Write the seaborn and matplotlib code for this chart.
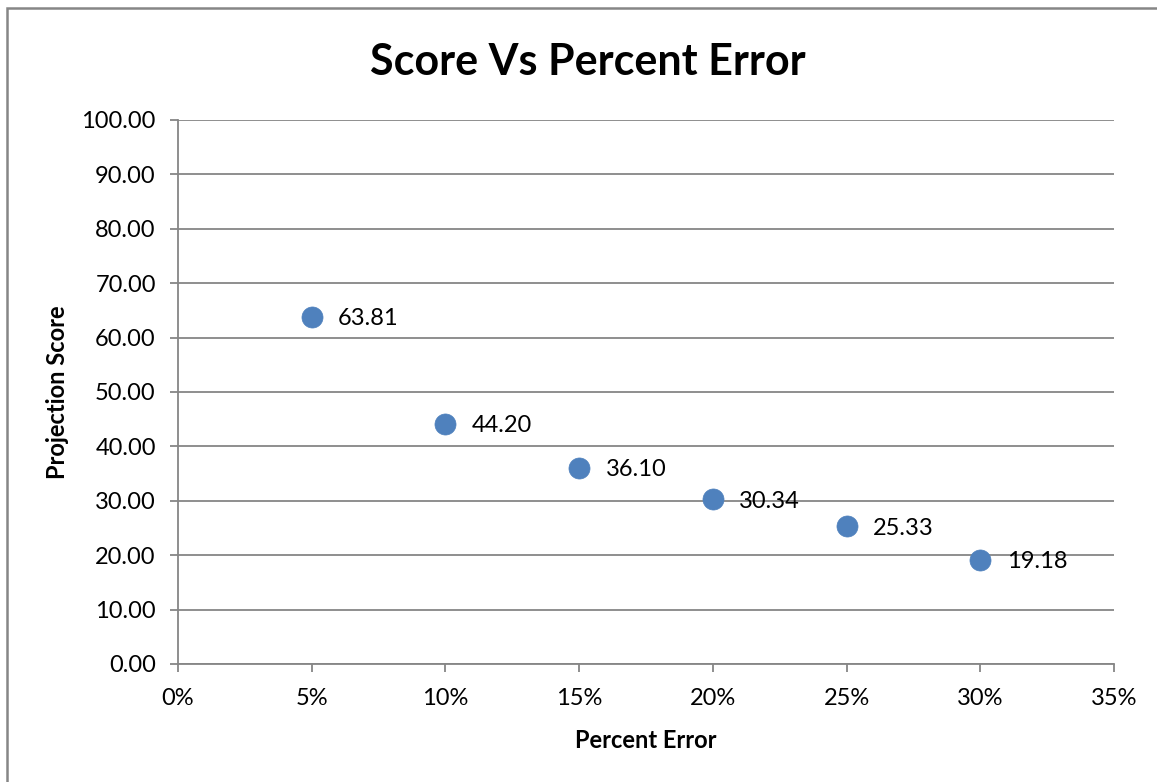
import matplotlib
matplotlib.use("Agg")
import matplotlib.pyplot as plt
import matplotlib.patches as mpatches
from matplotlib.ticker import FuncFormatter, MultipleLocator
import pandas as pd
import seaborn as sns

# Datos
percent_error = [0.05, 0.10, 0.15, 0.20, 0.25, 0.30]
projection_score = [63.81, 44.20, 36.10, 30.34, 25.33, 19.18]

title = "Score Vs Percent Error"
x_label = "Percent Error"
y_label = "Projection Score"

GRAY = "#868686"
BLUE = "#4F81BD"

sns.set_theme(style="white")
plt.rcParams['font.family'] = ['Lato', 'DejaVu Sans']
plt.rcParams['text.color'] = 'black'
plt.rcParams['axes.labelcolor'] = 'black'

df = pd.DataFrame({"error": percent_error, "score": projection_score})

fig = plt.figure(figsize=(11.57, 7.82), dpi=100)
ax = fig.add_axes([178 / 1157, 1 - 664 / 782, (1114 - 178) / 1157, (664 - 120) / 782])

sns.scatterplot(data=df, x="error", y="score", ax=ax, s=230, color=BLUE,
                edgecolor=BLUE, linewidth=0.5, zorder=3, legend=False)

for x, y in zip(percent_error, projection_score):
    ax.annotate(f"{y:.2f}", (x, y), xytext=(19, -1.5), textcoords="offset points",
                ha="left", va="center", fontsize=17, color="black")

ax.set_xlim(0, 0.35)
ax.set_ylim(0, 100)
ax.xaxis.set_major_locator(MultipleLocator(0.05))
ax.yaxis.set_major_locator(MultipleLocator(10))
ax.xaxis.set_major_formatter(FuncFormatter(lambda v, p: f"{v * 100:.0f}%"))
ax.yaxis.set_major_formatter(FuncFormatter(lambda v, p: f"{v:.2f}"))

ax.grid(True, axis="y", color=GRAY, linewidth=1.3)
ax.grid(False, axis="x")
ax.set_axisbelow(True)

for side in ["top", "right"]:
    ax.spines[side].set_visible(False)
for side in ["left", "bottom"]:
    ax.spines[side].set_color(GRAY)
    ax.spines[side].set_linewidth(1.3)

ax.tick_params(axis="both", which="major", direction="out", length=6, width=1.3,
               color=GRAY, labelsize=17, labelcolor="black")
ax.tick_params(axis="x", pad=11, bottom=True)
ax.tick_params(axis="y", pad=10, left=True)

ax.set_xlabel(x_label, fontsize=17, fontweight="bold", labelpad=15)
ax.set_ylabel(y_label, fontsize=17, fontweight="bold", labelpad=9)

fig.text(588 / 1157, 1 - 62 / 782, title, ha="center", va="center",
         fontsize=31, fontweight="bold")

# Marco exterior del gráfico
fig.patches.append(mpatches.Rectangle((7 / 1157, -0.1), 1.2, 1 - 8 / 782 + 0.1,
                                      transform=fig.transFigure, fill=False,
                                      edgecolor=GRAY, linewidth=1.8))

fig.savefig("out.png", dpi=100)
